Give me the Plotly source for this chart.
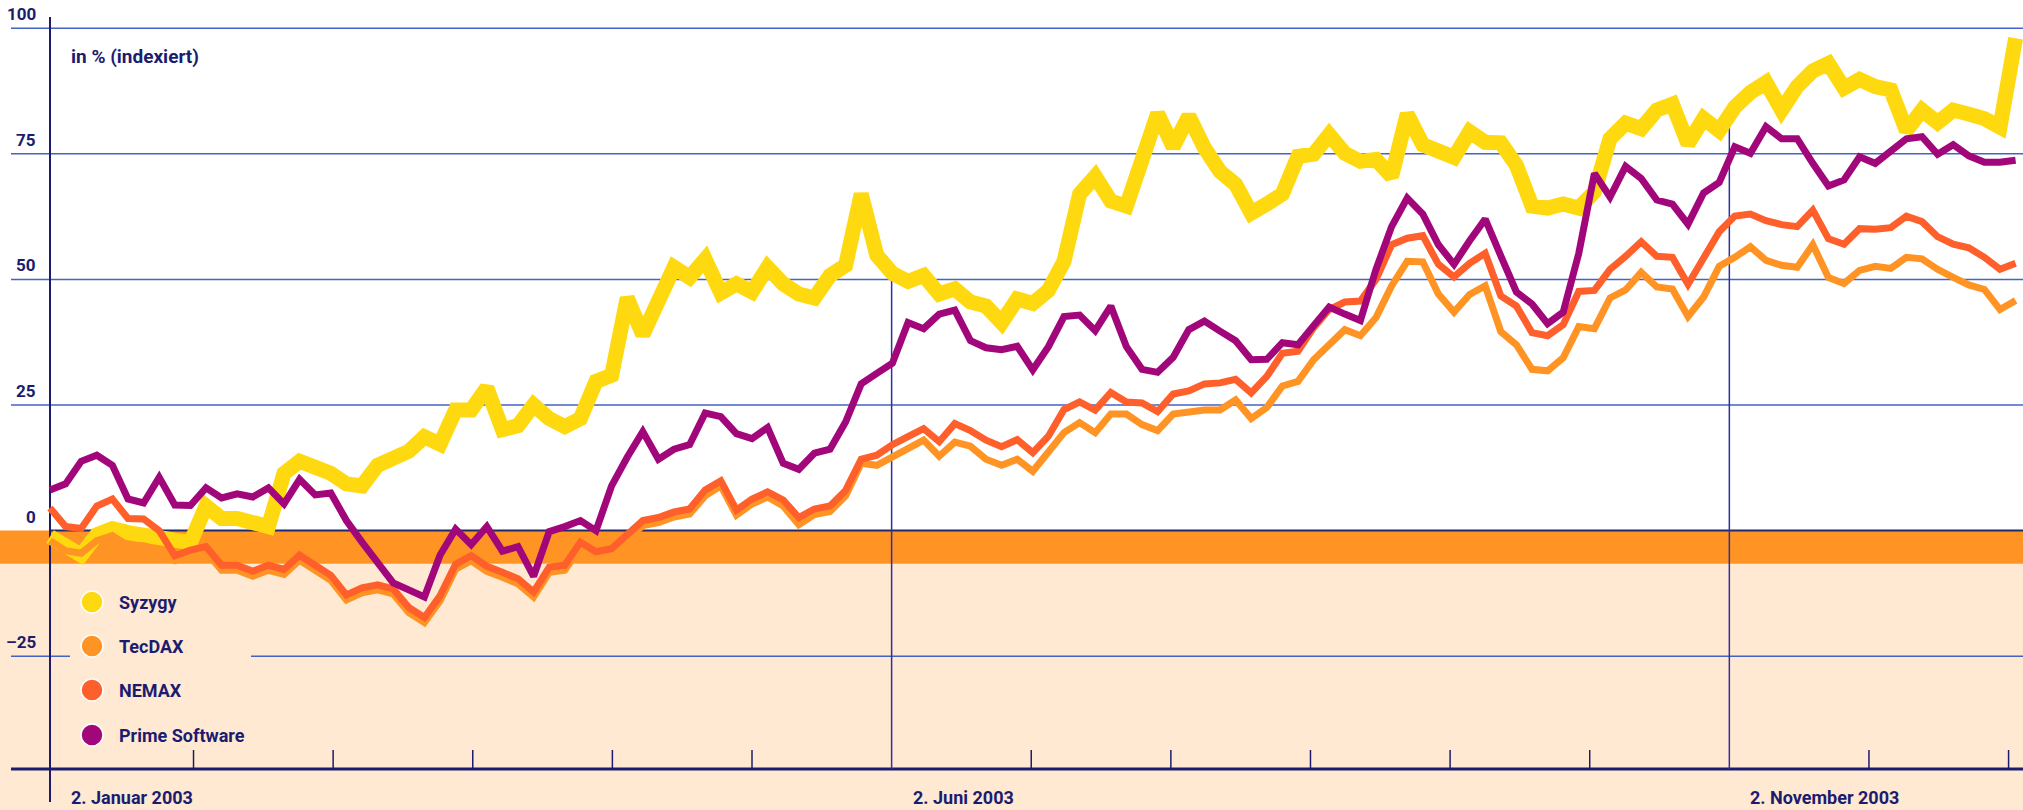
import numpy as np
import plotly.graph_objects as go

# ---------------- data (% indexed) ----------------
SERIES = ["Syzygy", "TecDAX", "NEMAX", "Prime Software"]
COLORS = ["#FFD90F", "#FF9424", "#FF5F2B", "#A1067A"]
WIDTHS = [15, 7, 7, 7]

SYZYGY = [-1.2, -2.8, -4.9, -0.8, 0.4, -0.4, -0.8, -1.0, -1.6, -2.4,
          4.9, 2.4, 2.4, 1.2, 0.8, 11.4, 13.8, 12.6, 11.4, 9.3,
          8.9, 13.0, 14.5, 15.8, 18.7, 17.2, 24.0, 24.0, 28.4, 20.1,
          20.9, 25.0, 22.3, 20.7, 22.3, 29.7, 30.9, 46.3, 39.0, 45.9,
          52.4, 50.4, 54.0, 47.3, 49.1, 47.5, 52.4, 49.1, 47.1, 46.3,
          50.8, 52.8, 67.0, 54.8, 51.2, 49.6, 50.8, 47.1, 48.1, 45.5,
          44.7, 41.4, 46.1, 45.2, 47.8, 53.6, 67.0, 70.5, 65.6, 64.6,
          75.1, 83.0, 76.4, 82.5, 76.2, 71.5, 68.9, 63.2, 65.0, 67.0,
          74.5, 74.9, 78.8, 75.1, 73.5, 73.9, 70.5, 82.9, 76.8, 75.5,
          74.3, 79.4, 77.3, 77.2, 72.7, 64.6, 64.2, 65.0, 64.2, 67.4,
          78.0, 81.1, 80.0, 83.7, 84.9, 77.0, 82.0, 79.6, 84.3, 87.2,
          89.2, 83.7, 88.4, 91.5, 93.0, 88.1, 89.8, 88.4, 87.7, 79.6,
          83.7, 81.2, 83.7, 82.9, 82.0, 80.3, 98.0]

TECDAX = [-2.0, -4.0, -4.5, -2.0, -1.0, -3.0, -3.0, -4.0, -6.0, -4.9,
          -4.2, -7.9, -7.9, -9.1, -7.9, -8.7, -5.9, -8.1, -9.9, -13.8,
          -12.4, -11.8, -12.6, -16.3, -18.3, -14.0, -7.7, -6.0, -8.1, -9.3,
          -10.6, -13.2, -8.3, -7.9, -3.3, -5.2, -4.6, -1.8, 1.0, 1.6,
          2.7, 3.3, 6.9, 8.9, 3.1, 5.3, 6.7, 4.9, 1.2, 3.2,
          3.8, 6.9, 13.4, 13.0, 14.6, 16.5, 18.0, 14.8, 17.6, 16.8,
          14.2, 13.0, 14.2, 11.8, 15.4, 19.5, 21.5, 19.5, 23.2, 23.2,
          21.1, 19.9, 23.2, 23.6, 24.0, 24.0, 26.0, 22.3, 24.5, 28.8,
          29.7, 34.0, 37.0, 40.0, 38.8, 42.4, 48.7, 53.6, 53.5, 47.1,
          43.5, 47.0, 48.7, 39.6, 37.0, 32.1, 31.8, 34.4, 40.6, 40.2,
          46.3, 47.9, 51.4, 48.5, 48.1, 42.6, 46.5, 52.6, 54.4, 56.5,
          53.8, 52.8, 52.4, 56.9, 50.4, 49.2, 51.8, 52.6, 52.2, 54.4,
          54.1, 52.0, 50.4, 48.9, 48.0, 44.0, 45.8]

NEMAX = [4.5, 0.8, 0.4, 4.9, 6.3, 2.4, 2.3, 0.0, -5.0, -3.9,
         -3.2, -6.9, -6.9, -8.1, -6.9, -7.7, -4.9, -7.1, -8.9, -12.8,
         -11.4, -10.8, -11.6, -15.3, -17.3, -13.0, -6.7, -5.0, -7.1, -8.3,
         -9.6, -12.2, -7.3, -6.9, -2.3, -4.2, -3.6, -0.8, 2.0, 2.6,
         3.7, 4.3, 8.1, 9.9, 4.1, 6.3, 7.7, 6.1, 2.6, 4.3,
         4.9, 8.0, 14.2, 15.0, 17.1, 18.7, 20.3, 17.7, 21.3, 19.9,
         18.0, 16.7, 18.1, 15.5, 18.8, 24.1, 25.6, 24.0, 27.5, 25.6,
         25.4, 23.7, 27.2, 27.8, 29.2, 29.4, 30.1, 27.4, 30.7, 35.3,
         35.7, 40.4, 44.0, 45.5, 45.7, 50.0, 56.9, 58.2, 58.7, 53.0,
         50.5, 53.2, 55.2, 46.7, 44.7, 39.4, 38.8, 41.0, 47.6, 47.8,
         52.0, 54.6, 57.5, 54.6, 54.4, 49.0, 54.4, 59.5, 62.6, 63.0,
         61.7, 60.9, 60.5, 63.8, 58.1, 57.0, 60.1, 60.0, 60.3, 62.6,
         61.5, 58.5, 57.0, 56.3, 54.4, 52.0, 53.2]

PRIME = [8.1, 9.3, 13.8, 15.0, 13.0, 6.3, 5.5, 10.6, 5.1, 5.0,
         8.5, 6.5, 7.3, 6.7, 8.5, 5.3, 10.2, 7.1, 7.5, 2.0,
         -2.3, -6.1, -10.4, -11.8, -13.2, -4.9, 0.3, -2.8, 0.8, -4.1,
         -3.2, -9.1, -0.2, 0.8, 2.0, 0.0, 8.9, 14.6, 19.7, 14.2,
         16.2, 17.1, 23.4, 22.7, 19.3, 18.3, 20.5, 13.4, 12.2, 15.4,
         16.2, 21.6, 29.2, 31.3, 33.3, 41.4, 40.2, 43.1, 43.9, 37.8,
         36.4, 36.0, 36.7, 32.0, 36.6, 42.6, 42.9, 39.8, 44.7, 36.6,
         32.1, 31.5, 34.5, 40.0, 41.7, 39.7, 37.8, 34.0, 34.1, 37.4,
         37.0, 40.8, 44.5, 43.1, 41.8, 52.0, 60.5, 66.2, 63.0, 56.9,
         53.0, 57.7, 62.0, 54.7, 47.5, 45.1, 41.2, 43.5, 55.2, 71.1,
         66.4, 72.5, 70.1, 65.8, 65.0, 61.0, 67.2, 69.3, 76.4, 75.1,
         80.4, 78.0, 78.0, 73.1, 68.6, 69.8, 74.4, 73.1, 75.4, 78.0,
         78.4, 74.9, 76.8, 74.6, 73.3, 73.3, 73.7]

VALUES = [SYZYGY, TECDAX, NEMAX, PRIME]

# y axis ticks
Y_TICKS = [100, 75, 50, 25, 0, -25]
Y_TICK_LABELS = ["100", "75", "50", "25", "0", "\u201325"]

# x axis: sample index (every second trading day); ticks every ~18 trading days
N_TICKS = 14
TICK_STEP = 8.95
TICK_OFFSET = 0.25
X_LABELS = ["2. Januar 2003", "2. Juni 2003", "2. November 2003"]
X_LABEL_TICK = [0, 6, 12]          # tick number carrying the label (0 = y axis)

BAND_BOTTOM = -6.6                 # orange band under the zero line
AXIS_BOTTOM = -47.45               # value at the bottom axis line

# ---------------- layout geometry (pixels) ----------------
W, H = 2023, 810
AXIS_PX = 50.0      # x pixel of the first sample
STEP_PX = 15.6      # pixels per sample
ZERO_PX = 530.6     # y pixel of value 0
UNIT_PX = 5.024     # pixels per percentage point

NAVY = "#1c1c6f"
GRID = "#4463c4"
FONT = "Roboto"


def px_x(p):
    return (p - AXIS_PX) / STEP_PX


def px_y(p):
    return (ZERO_PX - p) / UNIT_PX


x_idx = np.arange(len(SYZYGY))
tick_pos = [TICK_OFFSET + TICK_STEP * j for j in range(1, N_TICKS + 1)]
x_end = px_x(W)

fig = go.Figure()
for name, vals, col, wd in zip(SERIES, VALUES, COLORS, WIDTHS):
    fig.add_trace(go.Scatter(
        x=x_idx, y=vals, mode="lines", name=name,
        line=dict(color=col, width=wd, shape="linear"),
        showlegend=False, hoverinfo="skip"))

shapes = []
# backgrounds
shapes.append(dict(type="rect", xref="x", yref="y", x0=px_x(0), x1=x_end,
                   y0=px_y(H), y1=BAND_BOTTOM, fillcolor="#FFE9D3",
                   line=dict(width=0), layer="below"))
shapes.append(dict(type="rect", xref="x", yref="y", x0=px_x(0), x1=x_end,
                   y0=BAND_BOTTOM, y1=0, fillcolor=COLORS[1],
                   line=dict(width=0), layer="below"))

# legend geometry
LEG_X_PX = 92
LEG_TXT_PX = 117
LEG_Y_PX = [602, 646, 690, 735]
LEG_R_PX = 11
LEG_BOX = (70, 251)

# grid lines
for v in Y_TICKS:
    if v == 0:
        shapes.append(dict(type="line", xref="x", yref="y", x0=0, x1=x_end,
                           y0=0, y1=0, line=dict(color="#1f2a6b", width=2),
                           layer="between"))
    elif v == -25:
        for a, b in [(px_x(11), px_x(LEG_BOX[0])), (px_x(LEG_BOX[1]), x_end)]:
            shapes.append(dict(type="line", xref="x", yref="y", x0=a, x1=b,
                               y0=v, y1=v, line=dict(color=GRID, width=1.5),
                               layer="between"))
    else:
        shapes.append(dict(type="line", xref="x", yref="y", x0=px_x(11),
                           x1=x_end, y0=v, y1=v,
                           line=dict(color=GRID, width=1.5), layer="between"))

# y axis line
shapes.append(dict(type="line", xref="x", yref="y", x0=0, x1=0,
                   y0=px_y(17), y1=px_y(802), line=dict(color=NAVY, width=2),
                   layer="between"))
# bottom axis line
shapes.append(dict(type="line", xref="x", yref="y", x0=px_x(11), x1=x_end,
                   y0=AXIS_BOTTOM, y1=AXIS_BOTTOM,
                   line=dict(color=NAVY, width=3), layer="between"))
# ticks and long date lines
for j, tp in enumerate(tick_pos, start=1):
    if j in X_LABEL_TICK:
        top = float(np.interp(tp, x_idx, SYZYGY))
        shapes.append(dict(type="line", xref="x", yref="y", x0=tp, x1=tp,
                           y0=AXIS_BOTTOM, y1=top,
                           line=dict(color="#2f2fa0", width=1.5),
                           layer="between"))
    else:
        shapes.append(dict(type="line", xref="x", yref="y", x0=tp, x1=tp,
                           y0=AXIS_BOTTOM, y1=AXIS_BOTTOM + 19 / UNIT_PX,
                           line=dict(color=NAVY, width=1.5), layer="between"))

# legend circles
rx, ry = LEG_R_PX / STEP_PX, LEG_R_PX / UNIT_PX
for col, ypx in zip(COLORS, LEG_Y_PX):
    cx, cy = px_x(LEG_X_PX), px_y(ypx)
    shapes.append(dict(type="circle", xref="x", yref="y",
                       x0=cx - rx, x1=cx + rx, y0=cy - ry, y1=cy + ry,
                       fillcolor=col, line=dict(color="white", width=1.5),
                       layer="above"))

annotations = []
for v, lab in zip(Y_TICKS, Y_TICK_LABELS):
    annotations.append(dict(x=px_x(38), y=v, xref="x", yref="y", text=lab,
                            showarrow=False, xanchor="right", yanchor="bottom",
                            yshift=2,
                            font=dict(family=FONT, size=17, color=NAVY,
                                      weight="bold")))
for lab, tj in zip(X_LABELS, X_LABEL_TICK):
    base = 0 if tj == 0 else tick_pos[tj - 1]
    annotations.append(dict(x=base + 19 / STEP_PX, y=px_y(797), xref="x",
                            yref="y", text=lab, showarrow=False,
                            xanchor="left", yanchor="middle",
                            font=dict(family=FONT, size=18, color=NAVY,
                                      weight="bold")))
for name, ypx in zip(SERIES, LEG_Y_PX):
    annotations.append(dict(x=px_x(LEG_TXT_PX), y=px_y(ypx), xref="x",
                            yref="y", text=name, showarrow=False,
                            xanchor="left", yanchor="middle",
                            font=dict(family=FONT, size=18, color=NAVY,
                                      weight="bold")))
annotations.append(dict(x=px_x(69), y=px_y(56), xref="x", yref="y",
                        text="in % (indexiert)", showarrow=False,
                        xanchor="left", yanchor="middle",
                        font=dict(family=FONT, size=19, color=NAVY,
                                  weight="bold")))

fig.update_layout(
    width=W, height=H,
    margin=dict(l=0, r=0, t=0, b=0, pad=0),
    paper_bgcolor="white", plot_bgcolor="white",
    xaxis=dict(range=[px_x(0), x_end], visible=False, fixedrange=True),
    yaxis=dict(range=[px_y(H), px_y(0)], visible=False, fixedrange=True),
    shapes=shapes, annotations=annotations,
    showlegend=False,
)

fig.write_html(
    "out.html",
    config={"displayModeBar": False},
    post_script="document.body.style.margin='0';"
                "document.body.style.overflow='hidden';",
)
